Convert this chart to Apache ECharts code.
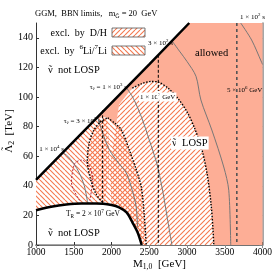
<!DOCTYPE html>
<html><head><meta charset="utf-8">
<script src="https://cdn.jsdelivr.net/npm/echarts@6/dist/echarts.min.js"></script>
<style>html,body{margin:0;padding:0;background:#fff}#c{width:275px;height:275px}</style>
</head><body><div id="c"></div>
<script>
// ---- data (M_1,0 in GeV, Lambda_2 in TeV) ----
const xTicks = [1000, 1500, 2000, 2500, 3000, 3500, 4000];
const yTicks = [0, 20, 40, 60, 80, 100, 120, 140];
const topBoundary = [[1000,44],[1500,70],[2000,96],[2500,122],[3030,150]];
const bottomBoundary = [[1000,23.5],[1200,25.8],[1400,27.3],[1600,28],[1800,28],[2000,27],[2100,25.5],[2200,22],[2280,15],[2350,8],[2400,0]];
const dhArc = [[2276,106],[2400,109],[2520,110.5],[2620,110],[2750,106],[2880,99],[3000,90],[3100,79],[3200,64],[3270,47],[3320,27],[3345,10],[3355,0]];
const dhLeft = [[1908,27.5],[1800,34],[1720,45],[1680,57],[1700,68],[1760,77],[1850,83],[1950,86]];
const dhTop = [[1950,86],[2100,95],[2276,106]];
const liRight = [[1950,86],[2050,82],[2132,77.7],[2237,64],[2329,50.7],[2395,39],[2434,20],[2460,0]];
const liTop = [[1776,84.5],[1880,86.5],[1950,86]];
const redLoop = [[1579,30],[1470,42],[1513,55],[1605,57.4],[1711,52.7],[1750,43.9],[1711,30]];
const tau1e2 = [[3711,150],[3856,138.5],[3987,123.6],[4000,122]];
const tau3e2 = [[2800,138],[2900,131],[3000,124],[3119,114],[3184,98],[3329,77.7],[3487,52.7],[3553,37],[3579,0]];
const tau1e3 = [[2198,106.3],[2290,99],[2400,86],[2500,71],[2600,55],[2680,36],[2740,18],[2800,0]];
const tau3e3 = [[1816,86.6],[1880,76],[1974,64],[2100,55],[2197,48.6],[2280,36],[2329,25],[2345,12]];
const tau1e4 = [[1355,62.5],[1420,60],[1500,55],[1580,48],[1640,40],[1680,30],[1690,28]];
const TR2e7 = [[1882,91],[1882,27.8]];
const TR1e7 = [[2620,128.5],[2620,0]];
const TR5e6 = [[3660,150],[3660,0]];

// ---- helpers ----
const FONT = 'Liberation Serif';
const ORANGE = '#f5794f';
const SALMON = '#fdae96';
function hatch(dir, bg) {
  const s = 5, c = document.createElement('canvas');
  c.width = s; c.height = s;
  const g = c.getContext('2d');
  if (bg) { g.fillStyle = bg; g.fillRect(0,0,s,s); }
  g.strokeStyle = ORANGE; g.lineWidth = 1.1;
  g.beginPath();
  for (let k = -1; k <= 1; k++) {
    if (dir > 0) { g.moveTo(k*s, s); g.lineTo(k*s + s, 0); }
    else { g.moveTo(k*s, 0); g.lineTo(k*s + s, s); }
  }
  g.stroke();
  return c;
}
const patFwd = {image: hatch(1, null), repeat: 'repeat'};
const patBack = {image: hatch(-1, null), repeat: 'repeat'};
const patFwdW = {image: hatch(1, '#fff'), repeat: 'repeat'};
const patBackW = {image: hatch(-1, '#fff'), repeat: 'repeat'};

const rev = a => a.slice().reverse();
const bottomBetween = (x0, x1) => bottomBoundary.filter(p => p[0] > x0 && p[0] < x1);
const losp = [].concat(topBoundary, [[4000,150],[4000,0]], rev(bottomBoundary));
const liPoly = [].concat(topBoundary.filter(p => p[0] < 1776), liTop, liRight.slice(1), [[2400,0]], rev(bottomBoundary.filter(p => p[0] < 2400)));
const dhPoly = [].concat(rev(dhLeft), dhTop.slice(1), dhArc.slice(1), [[2400,0]], rev(bottomBetween(1908, 2400)));

function polySeries(pts, fill, z) {
  return {type: 'custom', silent: true, z: z, data: [pts[0]],
    renderItem: (params, api) => ({type: 'polygon', shape: {points: pts.map(p => api.coord(p))}, style: {fill: fill, stroke: null}})};
}
function lineSeries(pts, color, width, type, z, smooth) {
  return {type: 'line', data: pts, showSymbol: false, silent: true, z: z, smooth: smooth === undefined ? 0.3 : smooth,
    lineStyle: {color: color, width: width, type: type}};
}

// text with sub/superscripts and tildes: "_{..}" sub, "^{..}" sup, "x~" tilde over x
const mctx = document.createElement('canvas').getContext('2d');
function parse(str) {
  const out = []; let mode = 'n', buf = '';
  const push = () => { if (buf) { out.push({t: buf, m: mode}); buf = ''; } };
  for (let i = 0; i < str.length; i++) {
    const ch = str[i];
    if ((ch === '_' || ch === '^') && str[i+1] === '{') { push(); mode = ch; i++; continue; }
    if (ch === '}' && mode !== 'n') { push(); mode = 'n'; continue; }
    if (str[i+1] === '~') { push(); out.push({t: ch, m: mode, tilde: true}); i++; continue; }
    buf += ch;
  }
  push();
  return out;
}
function label(x, y, str, size, opts) {
  opts = opts || {};
  const parts = parse(str);
  let total = 0;
  parts.forEach(p => {
    p.fs = p.m === 'n' ? size : size * 0.7;
    p.dy = p.m === '_' ? size * 0.3 : (p.m === '^' ? -size * 0.36 : 0);
    mctx.font = p.fs + 'px "' + FONT + '"';
    p.w = mctx.measureText(p.t).width;
    total += p.w;
  });
  let cx = opts.align === 'right' ? -total : (opts.align === 'center' ? -total / 2 : 0);
  const children = [];
  const tildes = [];
  parts.forEach(p => {
    const st = {text: p.t, fontSize: p.fs, fontFamily: FONT, fill: '#000', align: 'left', verticalAlign: 'middle'};
    if (opts.bg) { st.backgroundColor = opts.bg; st.padding = [1, 1, 1, 1]; }
    children.push({type: 'text', z: 100, z2: 10, x: cx - (opts.bg ? 1 : 0), y: p.dy, style: st});
    if (p.tilde) {
      const up = p.t !== p.t.toLowerCase() ? p.fs * 0.24 : 0;
      tildes.push({type: 'text', z: 100, z2: 20, x: cx + p.w / 2, y: p.dy - up, style: {text: '˜', fontSize: p.fs, fontFamily: FONT, fill: '#000', align: 'center', verticalAlign: 'middle'}});
    }
    cx += p.w;
  });
  return [{type: 'group', x: x, y: y, rotation: opts.rotation || 0, z: 100, silent: true, children: children.concat(tildes)}];
}

const graphics = [].concat(
  label(35, 14, 'GGM,  BBN limits,   m_{G~} = 20  GeV', 8.5),
  label(107, 33, 'excl.  by  D/H', 10, {align: 'right'}),
  label(107, 51, 'excl.  by  ^{6}Li/^{7}Li', 10, {align: 'right'}),
  [{type: 'rect', z: 100, silent: true, shape: {x: 112, y: 28, width: 33, height: 9}, style: {fill: patFwdW, stroke: '#555', lineWidth: 0.8}},
   {type: 'rect', z: 100, silent: true, shape: {x: 112, y: 46, width: 33, height: 9}, style: {fill: patBackW, stroke: '#555', lineWidth: 0.8}}],
  label(48, 70, 'ν~  not LOSP', 10.5),
  label(48, 233, 'ν~  not LOSP', 10.5),
  label(172, 143, 'ν~  LOSP', 10.5, {bg: '#fff'}),
  label(195, 53, 'allowed', 10.5),
  label(66, 214, 'T_{R} = 2 × 10^{7} GeV', 7.5),
  label(127, 87, 'τ_{ν~} = 1 × 10^{3} s', 7, {align: 'right'}),
  label(101, 121, 'τ_{ν~} = 3 × 10^{3} s', 7, {align: 'right'}),
  label(64, 149, '1 × 10^{4} s', 7, {align: 'right'}),
  label(148, 43, '3 × 10^{2} s', 7),
  label(240, 17, '1 × 10^{2} s', 7),
  label(140, 97, '1 × 10^{7} GeV', 7, {bg: '#fff'}),
  label(227, 90, '5 × 10^{6} GeV', 7),
  label(133, 264, 'M_{1,0}  [GeV]', 11),
  label(9, 131, 'Λ~_{2}  [TeV]', 11, {align: 'center', rotation: Math.PI / 2})
);

const chart = echarts.init(document.getElementById('c'), null, {renderer: 'canvas'});
chart.setOption({
  animation: false,
  backgroundColor: '#fff',
  grid: {left: 36, right: 11, top: 23, bottom: 30},
  xAxis: [
    {type: 'value', min: xTicks[0], max: xTicks[xTicks.length-1], interval: 500, position: 'bottom',
     axisLine: {show: true, lineStyle: {color: '#333', width: 1}},
     axisTick: {inside: true, length: 3, lineStyle: {color: '#333'}},
     axisLabel: {fontSize: 9.5, fontFamily: FONT, color: '#000', margin: 2, formatter: v => String(v)},
     splitLine: {show: false}},
    {type: 'value', min: xTicks[0], max: xTicks[xTicks.length-1], interval: 500, position: 'top',
     axisLine: {show: true, lineStyle: {color: '#888', width: 1.5}},
     axisTick: {inside: true, length: 3, lineStyle: {color: '#888'}},
     axisLabel: {show: false}, splitLine: {show: false}}
  ],
  yAxis: [
    {type: 'value', min: 0, max: 150, interval: 20, position: 'left',
     axisLine: {show: true, lineStyle: {color: '#333', width: 1}},
     axisTick: {inside: true, length: 3, lineStyle: {color: '#333'}},
     axisLabel: {fontSize: 10, fontFamily: FONT, color: '#000', margin: 3, showMaxLabel: false,
                 formatter: v => (yTicks.indexOf(v) >= 0 ? String(v) : '')},
     splitLine: {show: false}},
    {type: 'value', min: 0, max: 150, interval: 20, position: 'right',
     axisLine: {show: true, lineStyle: {color: '#888', width: 1.5}},
     axisTick: {inside: true, length: 3, lineStyle: {color: '#888'}},
     axisLabel: {show: false}, splitLine: {show: false}}
  ],
  series: [
    polySeries(losp, SALMON, 1),
    polySeries(liPoly, '#fff', 2),
    polySeries(dhPoly, '#fff', 2),
    polySeries(dhPoly, patFwd, 3),
    polySeries(liPoly, patBack, 4),
    lineSeries(tau1e2, '#777', 1, 'solid', 5),
    lineSeries(tau3e2, '#777', 1, 'solid', 5),
    lineSeries(tau1e3, '#777', 1, 'solid', 5),
    lineSeries(tau3e3, '#777', 1, 'solid', 5),
    lineSeries(tau1e4, '#777', 1, 'solid', 5),
    lineSeries(redLoop, '#b0283c', 1, [2,1.5], 6),
    lineSeries(TR2e7, '#000', 1, [3,2], 6, false),
    lineSeries(TR1e7, '#000', 1, [3,2], 6, false),
    lineSeries(TR5e6, '#555', 1.6, [3,3], 6, false),
    lineSeries(dhArc, '#000', 1.4, [1.5,1.5], 7),
    lineSeries(dhLeft, '#000', 1.4, [1.5,1.5], 7),
    lineSeries(liRight, '#000', 1.4, [1.5,1.5], 7),
    lineSeries(topBoundary, '#000', 2.5, 'solid', 8, false),
    lineSeries(bottomBoundary, '#000', 2.5, 'solid', 8)
  ],
  graphic: graphics
});
</script></body></html>
